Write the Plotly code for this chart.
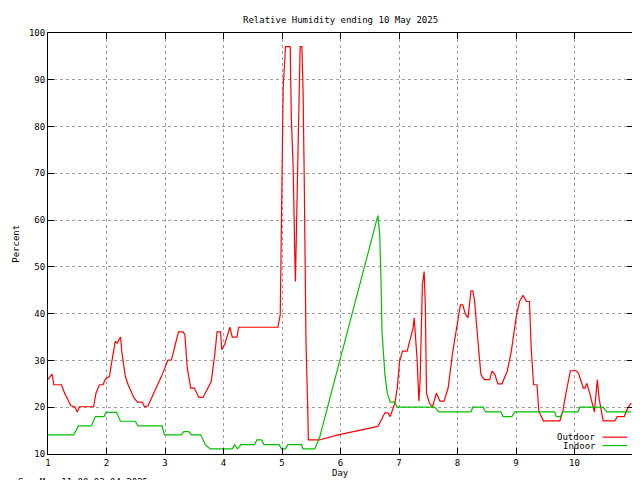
import plotly.graph_objects as go

# outdoor relative humidity, day-of-month vs percent
outdoor_day = [1.00, 1.07, 1.10, 1.23, 1.29, 1.31, 1.39, 1.46, 1.50, 1.54, 1.78, 1.82, 1.88, 1.94, 1.98,
	2.05, 2.11, 2.15, 2.18, 2.24, 2.26, 2.32, 2.37, 2.47, 2.53, 2.61, 2.65, 2.71, 2.94, 3.05, 3.11,
	3.15, 3.23, 3.31, 3.34, 3.38, 3.44, 3.50, 3.58, 3.65, 3.79, 3.85, 3.89, 3.95, 3.97, 4.02, 4.11,
	4.15, 4.23, 4.26, 4.93, 4.97, 4.98, 4.99, 5.01, 5.02, 5.06, 5.14, 5.16, 5.19, 5.22, 5.23, 5.26,
	5.29, 5.31, 5.34, 5.36, 5.38, 5.39, 5.41, 5.44, 5.45, 5.64, 5.96, 6.64, 6.76, 6.81, 6.85, 6.93,
	6.97, 7.01, 7.06, 7.14, 7.24, 7.26, 7.28, 7.31, 7.34, 7.36, 7.40, 7.43, 7.45, 7.47, 7.52, 7.57,
	7.64, 7.70, 7.77, 7.84, 7.92, 8.01, 8.05, 8.09, 8.13, 8.18, 8.23, 8.26, 8.29, 8.34, 8.40, 8.46,
	8.55, 8.59, 8.64, 8.69, 8.76, 8.85, 8.92, 9.01, 9.06, 9.12, 9.18, 9.23, 9.26, 9.30, 9.36, 9.39,
	9.47, 9.75, 9.80, 9.86, 9.93, 10.03, 10.07, 10.15, 10.18, 10.21, 10.26, 10.34, 10.36, 10.39,
	10.42, 10.49, 10.69, 10.73, 10.85, 10.91, 10.97]
outdoor_rh = [25.9, 27.1, 24.8, 24.8, 22.8, 22.4, 20.3, 20.1, 19.0, 20.1, 20.1, 23.0, 24.8, 24.8, 26.0,
	26.6, 31.2, 34.1, 33.7, 35.0, 32.0, 26.7, 24.8, 22.0, 21.1, 21.1, 20.1, 20.3, 26.6, 30.1, 30.1,
	32.3, 36.1, 36.1, 35.5, 28.4, 24.1, 24.1, 22.1, 22.1, 25.5, 31.2, 36.1, 36.1, 32.3, 33.4, 37.1,
	35.0, 35.0, 37.1, 37.1, 39.8, 48.7, 62.2, 77.5, 88.2, 97.1, 97.1, 81.8, 71.5, 51.9, 46.9, 66.2,
	91.0, 97.1, 97.1, 87.8, 69.0, 50.4, 34.1, 19.8, 13.0, 13.0, 14.1, 15.9, 18.8, 18.8, 18.0, 20.9,
	24.1, 29.8, 32.0, 32.0, 36.9, 39.1, 36.2, 30.1, 21.3, 25.5, 46.2, 49.0, 41.9, 23.0, 20.9, 20.0,
	23.0, 21.3, 21.3, 24.1, 32.0, 39.1, 41.9, 41.9, 40.1, 39.1, 44.9, 44.9, 43.0, 35.5, 27.0, 25.9,
	25.9, 27.7, 27.0, 25.0, 25.0, 27.7, 32.0, 39.8, 42.6, 43.9, 42.6, 42.6, 32.6, 24.8, 24.8, 19.1,
	17.1, 17.1, 19.1, 23.4, 27.8, 27.8, 27.2, 24.1, 24.1, 25.1, 23.0, 19.0, 22.3, 25.9,
	21.9, 17.1, 17.1, 18.0, 18.0, 19.8, 20.9]

# indoor relative humidity
indoor_day = [1.00, 1.44, 1.52, 1.74, 1.81, 1.96, 1.99, 2.17, 2.24, 2.49, 2.54, 2.95, 2.99, 3.28, 3.32,
	3.41, 3.45, 3.61, 3.69, 3.77, 4.15, 4.19, 4.24, 4.30, 4.53, 4.57, 4.65, 4.69, 4.95, 4.99, 5.06,
	5.10, 5.33, 5.36, 5.56, 5.64, 6.64, 6.67, 6.69, 6.71, 6.76, 6.80, 6.85, 6.93, 6.97, 7.61, 7.68,
	8.23, 8.26, 8.44, 8.48, 8.74, 8.78, 8.93, 8.98, 9.66, 9.69, 9.76, 9.80, 10.06, 10.09, 10.49,
	10.55, 10.97]
indoor_rh = [14.1, 14.1, 16.0, 16.0, 18.0, 18.0, 18.9, 18.9, 17.0, 17.0, 16.0, 16.0, 14.1, 14.1, 14.8,
	14.8, 14.1, 14.1, 12.0, 11.1, 11.1, 12.0, 11.1, 12.0, 12.0, 13.0, 13.0, 12.0, 12.0, 11.1, 11.1,
	12.0, 12.0, 11.1, 11.1, 13.4, 61.0, 56.9, 48.3, 35.9, 26.9, 23.0, 21.1, 21.1, 20.0, 20.0, 19.0,
	19.0, 20.0, 20.0, 19.0, 19.0, 18.0, 18.0, 19.0, 19.0, 18.0, 18.0, 19.0, 19.0, 20.0, 20.0,
	19.0, 19.0]

font = dict(family='DejaVu Sans Mono', size=9, color='black')

fig = go.Figure()
fig.add_trace(go.Scatter(x=outdoor_day, y=outdoor_rh, mode='lines', name='Outdoor',
	line=dict(color='#ff0000', width=1.2)))
fig.add_trace(go.Scatter(x=indoor_day, y=indoor_rh, mode='lines', name='Indoor',
	line=dict(color='#00c000', width=1.2)))

axis = dict(showline=True, linecolor='black', linewidth=1, mirror='ticks', ticks='inside',
	ticklen=6, tickcolor='black', showgrid=True, gridcolor='#a0a0a0', griddash='dot',
	gridwidth=1, zeroline=False, tickfont=font)
fig.update_xaxes(range=[1, 11], tickvals=list(range(1, 11)), **axis)
fig.update_yaxes(range=[10, 100], dtick=10, **axis)

fig.update_layout(
	width=640, height=480,
	margin=dict(l=40, r=15, t=25, b=34, autoexpand=False),
	plot_bgcolor='white', paper_bgcolor='white',
	font=font, showlegend=False,
	annotations=[
		dict(text='Relative Humidity ending 10 May 2025', x=0.5, y=1.03, xref='paper', yref='paper',
			showarrow=False, xanchor='center', yanchor='middle'),
		dict(text='Percent', textangle=-90, x=-0.056, y=0.5, xref='paper', yref='paper',
			showarrow=False, xanchor='center', yanchor='middle'),
		dict(text='Day', x=0.5, y=-0.045, xref='paper', yref='paper', showarrow=False,
			xanchor='center', yanchor='middle'),
		dict(text='Sun May 11 00:03:04 2025', x=-0.054, y=-0.066, xref='paper', yref='paper',
			showarrow=False, xanchor='left', yanchor='middle'),
		dict(text='Outdoor', x=0.94, y=0.04, xref='paper', yref='paper', showarrow=False,
			xanchor='right', yanchor='middle'),
		dict(text='Indoor', x=0.94, y=0.02, xref='paper', yref='paper', showarrow=False,
			xanchor='right', yanchor='middle'),
	],
	shapes=[
		dict(type='line', xref='paper', yref='paper', x0=0.948, x1=0.99, y0=0.04, y1=0.04,
			line=dict(color='#ff0000', width=1.2)),
		dict(type='line', xref='paper', yref='paper', x0=0.948, x1=0.99, y0=0.02, y1=0.02,
			line=dict(color='#00c000', width=1.2)),
	],
)

fig.write_html("out.html")
